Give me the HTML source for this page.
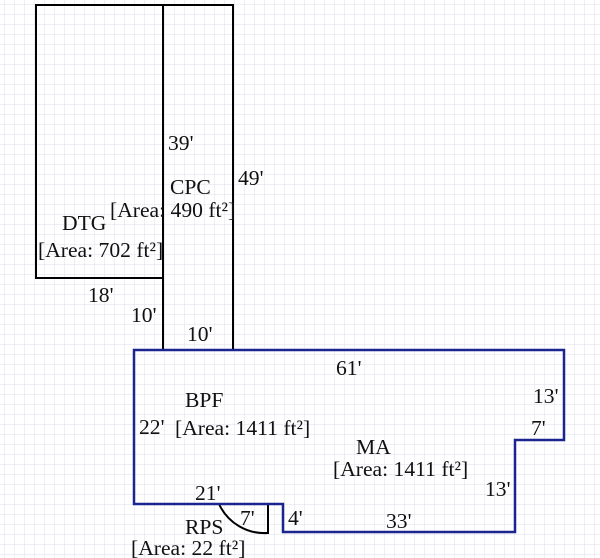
<!DOCTYPE html>
<html><head><style>
html,body{margin:0;padding:0;background:#fff}
svg{display:block}
text{font-family:"Liberation Serif",serif;font-size:21.6px;fill:#111}
</style></head><body>
<svg width="600" height="558" xmlns="http://www.w3.org/2000/svg">
<defs>
<pattern id="g" width="10" height="10" patternUnits="userSpaceOnUse" x="4" y="4">
<path d="M10 0H0V10" fill="none" stroke="#dcdfea" stroke-width="1"/>
</pattern>
</defs>
<rect width="600" height="558" fill="url(#g)"/>
<g fill="none" stroke="#000" stroke-width="2">
<rect x="36" y="5" width="127" height="273"/>
<rect x="163" y="5" width="70" height="345"/>
<path d="M268 504V533H262"/>
<path d="M219 504A50 50 0 0 0 268 533"/>
</g>
<path d="M134 350H564V440H515V532H283V504H134Z" fill="none" stroke="#1a2590" stroke-width="2.5"/>
<text x="168" y="150">39'</text>
<text x="238" y="185">49'</text>
<text x="170" y="194">CPC</text>
<text x="110" y="217">[Area: 490 ft²]</text>
<text x="62" y="230">DTG</text>
<text x="38" y="257">[Area: 702 ft²]</text>
<text x="88" y="302">18'</text>
<text x="131" y="322">10'</text>
<text x="187" y="341">10'</text>
<text x="336" y="375">61'</text>
<text x="533" y="403">13'</text>
<text x="185" y="407">BPF</text>
<text x="139" y="434">22'</text>
<text x="175" y="435">[Area: 1411 ft²]</text>
<text x="531" y="435">7'</text>
<text x="356" y="454">MA</text>
<text x="333" y="476">[Area: 1411 ft²]</text>
<text x="485" y="496">13'</text>
<text x="195" y="500">21'</text>
<text x="240" y="525">7'</text>
<text x="288" y="525">4'</text>
<text x="386" y="528">33'</text>
<text x="185" y="534">RPS</text>
<text x="131" y="555">[Area: 22 ft²]</text>
</svg>
</body></html>
